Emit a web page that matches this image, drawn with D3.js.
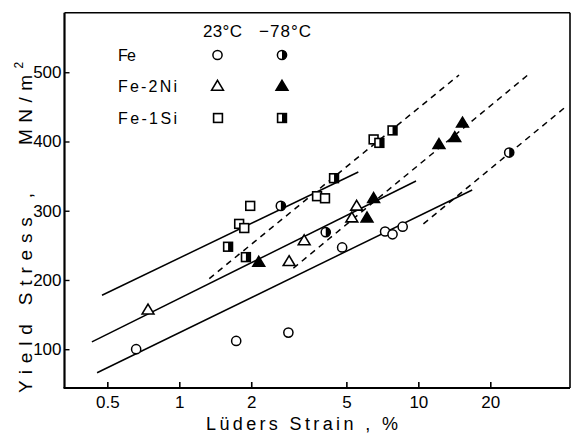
<!DOCTYPE html>
<html><head><meta charset="utf-8">
<script src="https://cdn.jsdelivr.net/npm/d3@7"></script>
<style>
body{margin:0;background:#fff}
svg{display:block}
text{font-family:"Liberation Sans",Arial,sans-serif;fill:#000}
</style>
</head><body>
<svg id="c" width="575" height="433"></svg>
<script>
// ---- data (Lüders strain %, yield stress MN/m^2) ----
const xTicks = [0.5, 1, 2, 5, 10, 20];
const xTickLabels = ["0.5", "1", "2", "5", "10", "20"];
const yTicks = [100, 200, 300, 400, 500];

const fe23 = [[0.66,100],[1.73,112],[2.86,124],[4.8,247],[7.26,270],[7.8,266],[8.6,277]];
const fe78 = [[2.66,307],[4.1,269],[24,384]];
const ni23 = [[0.74,157],[2.88,227],[3.33,257],[5.27,290],[5.52,307]];
const ni78 = [[2.15,226],[6.1,290],[6.5,318],[12.2,396],[14.2,406],[15.3,427]];
const si23 = [[1.78,281],[1.87,275],[1.98,307],[3.77,321],[4.07,318],[6.5,403]];
const si78 = [[1.6,248],[1.9,233],[4.44,347],[6.87,398],[7.8,416]];

const solidSi = [[0.475,178],[5.61,356]];
const solidNi = [[0.431,110.5],[9.78,343]];
const solidFe = [[0.453,66],[16.8,330]];
const dashSi = [[1.335,202],[14.8,496]];
const dashNi = [[3.0,217],[28.7,496]];
const dashFe = [[10.5,281],[42,452]];

const legendRows = ["Fe", "Fe-2Ni", "Fe-1Si"];
const legendHeads = ["23\u00B0C", "\u221278\u00B0C"];

// ---- layout ----
const L = 64.5, R = 570, T = 12.7, B = 388;
const svg = d3.select("#c");
const x = d3.scaleLog().domain([0.331, 43.1]).range([L, R]);
const y = d3.scaleLinear().domain([44, 586]).range([B, T]);

// frame
svg.append("line").attr("x1",L).attr("x2",R).attr("y1",T).attr("y2",T).attr("stroke","#000").attr("stroke-width",1.6);
svg.append("line").attr("x1",R).attr("x2",R).attr("y1",T).attr("y2",B).attr("stroke","#000").attr("stroke-width",1.6);
svg.append("line").attr("x1",L).attr("x2",L).attr("y1",T).attr("y2",B).attr("stroke","#000").attr("stroke-width",2.2);
svg.append("line").attr("x1",L-1).attr("x2",R).attr("y1",B).attr("y2",B).attr("stroke","#000").attr("stroke-width",2.2);

// axes via d3
const xAxis = d3.axisBottom(x).tickValues(xTicks).tickFormat((d,i)=>xTickLabels[i]).tickSizeInner(-6).tickSizeOuter(0).tickPadding(8);
const gx = svg.append("g").attr("transform",`translate(0,${B})`).call(xAxis);
gx.select(".domain").remove();
gx.selectAll(".tick line").attr("stroke","#000").attr("stroke-width",1.6);
gx.selectAll(".tick text").attr("font-size",17).attr("font-family","Liberation Sans, Arial, sans-serif").attr("fill","#000");

const yAxis = d3.axisLeft(y).tickValues(yTicks).tickSizeInner(-5).tickSizeOuter(0).tickPadding(3);
const gy = svg.append("g").attr("transform",`translate(${L},0)`).call(yAxis);
gy.select(".domain").remove();
gy.selectAll(".tick line").attr("stroke","#000").attr("stroke-width",1.4);
gy.selectAll(".tick text").attr("font-size",17).attr("font-family","Liberation Sans, Arial, sans-serif").attr("fill","#000");

// axis titles
svg.append("text").attr("x",206).attr("y",430).attr("font-size",18)
  .attr("textLength",192).attr("lengthAdjust","spacing").text("L\u00FCders Strain , %");
svg.append("text").attr("transform","translate(32,393) rotate(-90)").attr("font-size",19)
  .attr("textLength",200).attr("lengthAdjust","spacing").text("Yield Stress ,");
const mt = svg.append("text").attr("transform","translate(32,145) rotate(-90)").attr("font-size",19);
mt.append("tspan").attr("textLength",70).attr("lengthAdjust","spacing").text("MN/m");
mt.append("tspan").attr("font-size",12).attr("dy",-9).text("2");

// lines
const line = d3.line().x(d=>x(d[0])).y(d=>y(d[1]));
[solidSi, solidNi, solidFe].forEach(s=>{
  svg.append("path").attr("d",line(s)).attr("fill","none").attr("stroke","#000").attr("stroke-width",1.5);
});
[dashSi, dashNi, dashFe].forEach(s=>{
  svg.append("path").attr("d",line(s)).attr("fill","none").attr("stroke","#000").attr("stroke-width",1.5).attr("stroke-dasharray","6,5");
});

// markers
function circle(g, px, py, half){
  const r = 4.6;
  g.append("circle").attr("cx",px).attr("cy",py).attr("r",r).attr("fill","#fff").attr("stroke","#000").attr("stroke-width",1.5);
  if(half) g.append("path").attr("d",`M${px},${py-r} A${r},${r} 0 0 1 ${px},${py+r} Z`).attr("fill","#000");
}
function tri(g, px, py, filled){
  const s = 5.6;
  g.append("path").attr("d",`M${px},${py-s} L${px+s*1.05},${py+s*0.75} L${px-s*1.05},${py+s*0.75} Z`)
   .attr("fill",filled?"#000":"#fff").attr("stroke","#000").attr("stroke-width",1.6).attr("stroke-linejoin","miter");
}
function sq(g, px, py, half){
  const s = 4.4;
  g.append("rect").attr("x",px-s).attr("y",py-s).attr("width",2*s).attr("height",2*s).attr("fill","#fff").attr("stroke","#000").attr("stroke-width",1.6);
  if(half) g.append("rect").attr("x",px).attr("y",py-s).attr("width",s).attr("height",2*s).attr("fill","#000");
}
const gm = svg.append("g");
fe23.forEach(d=>circle(gm, x(d[0]), y(d[1]), false));
fe78.forEach(d=>circle(gm, x(d[0]), y(d[1]), true));
ni23.forEach(d=>tri(gm, x(d[0]), y(d[1]), false));
ni78.forEach(d=>tri(gm, x(d[0]), y(d[1]), true));
si23.forEach(d=>sq(gm, x(d[0]), y(d[1]), false));
si78.forEach(d=>sq(gm, x(d[0]), y(d[1]), true));

// legend
const lg = svg.append("g");
lg.append("text").attr("x",203).attr("y",37).attr("font-size",17).attr("textLength",39).attr("lengthAdjust","spacing").text(legendHeads[0]);
lg.append("text").attr("x",259).attr("y",37).attr("font-size",17).attr("textLength",52).attr("lengthAdjust","spacing").text(legendHeads[1]);
const rowY = [55, 86, 118];
const rowW = [18, 59, 59];
legendRows.forEach((t,i)=>{
  lg.append("text").attr("x",118).attr("y",rowY[i]+6).attr("font-size",16).attr("textLength",rowW[i]).attr("lengthAdjust","spacing").text(t);
});
circle(lg, 217.5, rowY[0], false); circle(lg, 282, rowY[0], true);
tri(lg, 217.5, rowY[1], false); tri(lg, 282, rowY[1], true);
sq(lg, 218, rowY[2], false); sq(lg, 282, rowY[2], true);
</script>
</body></html>
